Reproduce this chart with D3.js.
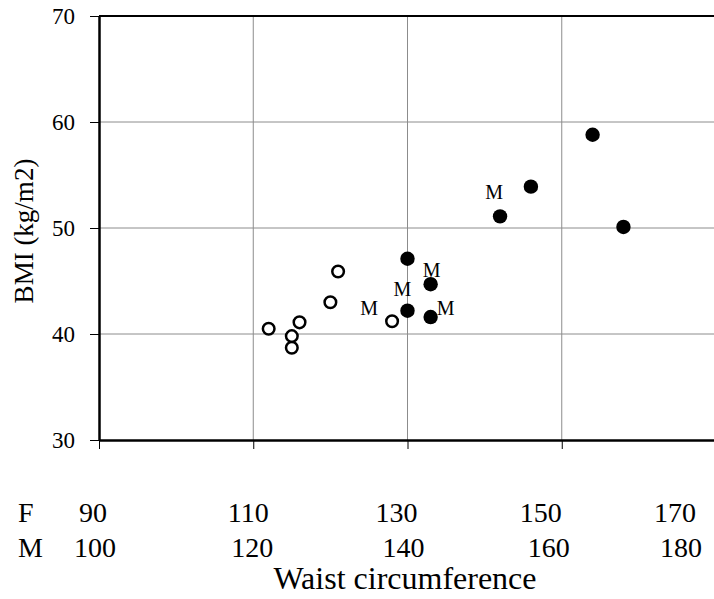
<!DOCTYPE html>
<html>
<head>
<meta charset="utf-8">
<script src="https://cdn.jsdelivr.net/npm/d3@7"></script>
<style>
  body { margin: 0; background: #fff; }
</style>
</head>
<body>
<div id="chart"></div>
<script>
// data, waist in male units (female scale = male - 10)
var openWaist = [122, 125, 125, 126, 130, 131, 138];
var openBmi = [40.5, 39.8, 38.7, 41.1, 43.0, 45.9, 41.2];
var filledWaist = [140, 143, 140, 143, 152, 156, 164, 168];
var filledBmi = [47.1, 44.7, 42.2, 41.6, 51.1, 53.9, 58.8, 50.1];
// points marked "M"
var maleWaist = [138, 140, 143, 143, 152];
var maleBmi = [41.2, 42.2, 44.7, 41.6, 51.1];
var yTicks = [30, 40, 50, 60, 70];
var xTicks = [100, 120, 140, 160, 180];
var femaleLabels = [90, 110, 130, 150, 170];
var maleLabels = [100, 120, 140, 160, 180];

// label placement (pixels)
var mOffset = [[-23, -13], [-5, -21], [1, -14], [15, -9], [-6, -24]];
var fNudge = [-6, -5, -11, -21, -41];
var mNudge = [-4, -1, -4, -13, -35];

var serif = "'Liberation Serif', 'DejaVu Serif', serif";
var width = 714, height = 599;
var svg = d3.select("#chart").append("svg")
    .attr("width", width)
    .attr("height", height)
    .style("font-family", serif);

var x = d3.scaleLinear().domain([100, 180]).range([99, 716]);
var y = d3.scaleLinear().domain([30, 70]).range([440, 16]);

// gridlines
svg.append("g").selectAll("line")
    .data([40, 50, 60])
    .enter().append("line")
    .attr("x1", x(100)).attr("x2", x(180))
    .attr("y1", function(d) { return y(d); })
    .attr("y2", function(d) { return y(d); })
    .attr("stroke", "#8c8c8c").attr("stroke-width", 1);

svg.append("g").selectAll("line")
    .data([120, 140, 160])
    .enter().append("line")
    .attr("x1", function(d) { return x(d); })
    .attr("x2", function(d) { return x(d); })
    .attr("y1", y(70)).attr("y2", y(30))
    .attr("stroke", "#8c8c8c").attr("stroke-width", 1);

// top border
svg.append("line")
    .attr("x1", x(100)).attr("x2", x(180))
    .attr("y1", y(70)).attr("y2", y(70))
    .attr("stroke", "#000").attr("stroke-width", 2);

// y axis
var yAxis = svg.append("g")
    .attr("transform", "translate(" + x(100) + ",0)")
    .call(d3.axisLeft(y).tickValues(yTicks).tickSize(9).tickSizeOuter(0).tickPadding(15));
yAxis.attr("font-family", null).attr("font-size", null);
yAxis.select(".domain").attr("stroke-width", 2.5);
yAxis.selectAll("text").style("font-size", "23px").style("font-family", serif);

// x axis (ticks only)
var xAxis = svg.append("g")
    .attr("transform", "translate(0," + y(30) + ")")
    .call(d3.axisBottom(x).tickValues(xTicks).tickSize(9).tickSizeOuter(0).tickFormat(""));
xAxis.select(".domain").attr("stroke-width", 2.5);

// open circles
svg.append("g").selectAll("circle")
    .data(openWaist)
    .enter().append("circle")
    .attr("cx", function(d) { return x(d); })
    .attr("cy", function(d, i) { return y(openBmi[i]); })
    .attr("r", 5.8)
    .attr("fill", "#fff")
    .attr("stroke", "#000")
    .attr("stroke-width", 2.5);

// filled circles
svg.append("g").selectAll("circle")
    .data(filledWaist)
    .enter().append("circle")
    .attr("cx", function(d) { return x(d); })
    .attr("cy", function(d, i) { return y(filledBmi[i]); })
    .attr("r", 7.2)
    .attr("fill", "#000");

// "M" markers
svg.append("g").selectAll("text")
    .data(maleWaist)
    .enter().append("text")
    .text("M")
    .attr("x", function(d, i) { return x(d) + mOffset[i][0]; })
    .attr("y", function(d, i) { return y(maleBmi[i]) + mOffset[i][1]; })
    .attr("dy", "0.33em")
    .attr("text-anchor", "middle")
    .style("font-family", serif)
    .style("font-size", "20px");

// F / M scale rows
svg.append("text").text("F").attr("x", 18).attr("y", 522)
    .style("font-family", serif).style("font-size", "28px");
svg.append("text").text("M").attr("x", 18).attr("y", 557)
    .style("font-family", serif).style("font-size", "28px");

svg.append("g").selectAll("text")
    .data(femaleLabels)
    .enter().append("text")
    .text(function(d) { return d; })
    .attr("x", function(d, i) { return x(maleLabels[i]) + fNudge[i]; })
    .attr("y", 522)
    .attr("text-anchor", "middle")
    .style("font-family", serif)
    .style("font-size", "28px");

svg.append("g").selectAll("text")
    .data(maleLabels)
    .enter().append("text")
    .text(function(d) { return d; })
    .attr("x", function(d, i) { return x(d) + mNudge[i]; })
    .attr("y", 557)
    .attr("text-anchor", "middle")
    .style("font-family", serif)
    .style("font-size", "28px");

// axis titles
svg.append("text")
    .text("Waist circumference")
    .attr("x", 405)
    .attr("y", 589)
    .attr("text-anchor", "middle")
    .style("font-family", serif)
    .style("font-size", "32px");

svg.append("text")
    .text("BMI (kg/m2)")
    .attr("transform", "translate(33," + ((y(30) + y(70)) / 2 + 3) + ") rotate(-90)")
    .attr("text-anchor", "middle")
    .style("font-family", serif)
    .style("font-size", "27px");
</script>
</body>
</html>
